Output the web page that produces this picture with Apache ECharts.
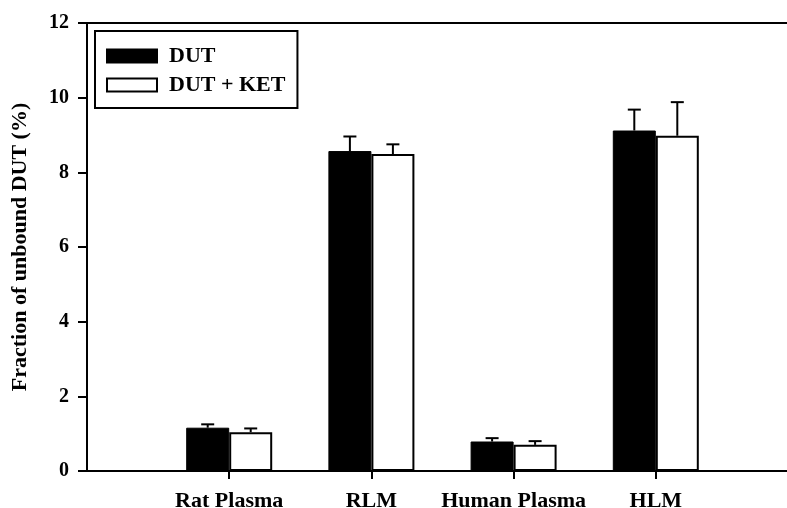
<!DOCTYPE html>
<html>
<head>
<meta charset="utf-8">
<script src="https://cdn.jsdelivr.net/npm/echarts@6/dist/echarts.min.js"></script>
<style>
  html, body { margin: 0; padding: 0; background: #fff; }
  #chart { width: 787px; height: 508px; }
</style>
</head>
<body>
<div id="chart"></div>
<script>
// first and last slots are empty, the figure leaves a gap there
const categories = ['', 'Rat Plasma', 'RLM', 'Human Plasma', 'HLM', ''];
const dut = [null, 1.16, 8.57, 0.79, 9.12, null];
const dutErr = [null, 0.09, 0.39, 0.09, 0.56, null];
const dutKet = [null, 1.04, 8.49, 0.70, 8.98, null];
const dutKetErr = [null, 0.10, 0.26, 0.10, 0.90, null];
const yTicks = [0, 2, 4, 6, 8, 10, 12];

const FONT = '"Liberation Serif", "Times New Roman", serif';
const BAR_W = 43;

function errData(vals, errs) {
    const out = [];
    for (let i = 0; i < vals.length; i++) {
        if (vals[i] == null) continue;
        out.push([i, vals[i], vals[i] + errs[i]]);
    }
    return out;
}

function errRenderer(offset) {
    return function (params, api) {
        const base = api.coord([api.value(0), api.value(1)]);
        const top = api.coord([api.value(0), api.value(2)]);
        const x = base[0] + offset;
        const style = { stroke: '#000', lineWidth: 2 };
        return {
            type: 'group',
            children: [
                { type: 'line', shape: { x1: x, y1: base[1], x2: x, y2: top[1] }, style },
                { type: 'line', shape: { x1: x - 6.5, y1: top[1], x2: x + 6.5, y2: top[1] }, style }
            ]
        };
    };
}

const chart = echarts.init(document.getElementById('chart'));
chart.setOption({
    backgroundColor: '#fff',
    animation: false,
    // plot runs past the right edge of the picture, as in the original figure
    grid: {
        left: 87, top: 23, height: 448, width: 711,
        outerBoundsMode: 'none',
        containLabel: false,
        show: true, borderColor: '#000', borderWidth: 2
    },
    legend: {
        data: ['DUT', 'DUT + KET'],
        orient: 'vertical',
        left: 95, top: 31,
        padding: [14, 12, 12, 11],
        itemGap: 7,
        itemWidth: 50,
        itemHeight: 13,
        icon: 'rect',
        borderColor: '#000',
        borderWidth: 2,
        textStyle: {
            fontFamily: FONT, fontWeight: 'bold', fontSize: 22, color: '#000',
            lineHeight: 22, padding: [0, 0, 0, 7]
        }
    },
    xAxis: {
        type: 'category',
        data: categories,
        boundaryGap: false,
        axisLine: { lineStyle: { color: '#000', width: 2 } },
        axisTick: {
            length: 8, lineStyle: { color: '#000', width: 2 },
            interval: (i) => i > 0 && i < categories.length - 1
        },
        axisLabel: {
            interval: 0, margin: 19,
            fontFamily: FONT, fontWeight: 'bold', fontSize: 22, color: '#000'
        }
    },
    yAxis: {
        type: 'value',
        min: yTicks[0],
        max: yTicks[yTicks.length - 1],
        interval: 2,
        name: 'Fraction of unbound DUT (%)',
        nameLocation: 'middle',
        nameGap: 56,
        nameTextStyle: { fontFamily: FONT, fontWeight: 'bold', fontSize: 22, color: '#000' },
        axisLine: { show: true, lineStyle: { color: '#000', width: 2 } },
        axisTick: { show: true, length: 9, lineStyle: { color: '#000', width: 2 } },
        axisLabel: { margin: 18, fontFamily: FONT, fontWeight: 'bold', fontSize: 20, color: '#000' },
        splitLine: { show: false }
    },
    series: [
        {
            name: 'DUT',
            type: 'bar',
            data: dut,
            barWidth: BAR_W,
            barGap: '0%',
            itemStyle: { color: '#000', borderColor: '#000', borderWidth: 1 }
        },
        {
            name: 'DUT + KET',
            type: 'bar',
            data: dutKet,
            barWidth: BAR_W,
            barGap: '0%',
            itemStyle: { color: '#fff', borderColor: '#000', borderWidth: 2 }
        },
        {
            type: 'custom',
            renderItem: errRenderer(-BAR_W / 2),
            data: errData(dut, dutErr),
            z: 3
        },
        {
            type: 'custom',
            renderItem: errRenderer(BAR_W / 2),
            data: errData(dutKet, dutKetErr),
            z: 3
        }
    ]
});
</script>
</body>
</html>
